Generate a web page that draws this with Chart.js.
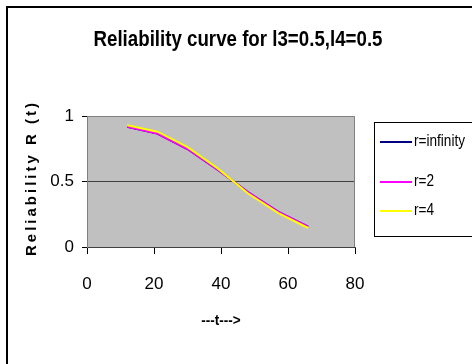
<!DOCTYPE html>
<html>
<head>
<meta charset="utf-8">
<script src="https://cdn.jsdelivr.net/npm/chart.js@4"></script>
<style>
  html, body { margin: 0; padding: 0; background: #fff; }
  #wrap { width: 472px; height: 364px; }
</style>
</head>
<body>
<div id="wrap"><canvas id="grafico" width="472" height="364"></canvas></div>
<script>
// dados
const tempos = [12, 21, 30, 39, 48, 57, 66];
const rInfinito = [0.918, 0.866, 0.748, 0.59, 0.42, 0.27, 0.155];
const r2 = [0.918, 0.866, 0.748, 0.59, 0.42, 0.27, 0.155];
const r4 = [0.930, 0.880, 0.762, 0.60, 0.41, 0.26, 0.145];
const rotulos = ['r=infinity', 'r=2', 'r=4'];
const xTicks = [0, 20, 40, 60, 80];
const yTicks = [0, 0.5, 1];
const titulo = 'Reliability curve for l3=0.5,l4=0.5';
const tituloY = 'Reliability R (t)';
const tituloX = '---t--->';

const fonte = "'Liberation Sans', Arial, sans-serif";

function pontos(valores) {
  return tempos.map((t, i) => ({ x: t, y: valores[i] }));
}

// texto "estreito": escala horizontal
function textoEstreito(ctx, txt, x, y, escala) {
  ctx.save();
  ctx.translate(x, y);
  ctx.scale(escala, 1);
  ctx.fillText(txt, 0, 0);
  ctx.restore();
}

// textos, legenda e moldura desenhados a mao
const extras = {
  id: 'extras',
  beforeDraw(chart) {
    const ctx = chart.ctx;
    const a = chart.chartArea;
    ctx.save();
    ctx.fillStyle = '#c0c0c0';
    ctx.fillRect(a.left, a.top, a.right - a.left, a.bottom - a.top);
    ctx.restore();
  },
  afterDraw(chart) {
    const ctx = chart.ctx;
    const a = chart.chartArea;
    ctx.save();
    // moldura externa
    ctx.strokeStyle = '#000';
    ctx.lineWidth = 2;
    ctx.beginPath();
    ctx.moveTo(7, 364);
    ctx.lineTo(7, 7);
    ctx.lineTo(472, 7);
    ctx.stroke();

    // borda da area do grafico
    ctx.lineWidth = 1;
    ctx.strokeStyle = '#808080';
    ctx.beginPath();
    ctx.moveTo(a.left + 0.5, a.bottom);
    ctx.lineTo(a.left + 0.5, a.top + 0.5);
    ctx.lineTo(a.right - 0.5, a.top + 0.5);
    ctx.lineTo(a.right - 0.5, a.bottom);
    ctx.stroke();

    // titulo
    ctx.fillStyle = '#000';
    ctx.textAlign = 'center';
    ctx.textBaseline = 'alphabetic';
    ctx.font = 'bold 22px ' + fonte;
    textoEstreito(ctx, titulo, 238, 46, 0.85);

    // titulo eixo x
    ctx.textBaseline = 'middle';
    ctx.font = 'bold 15px ' + fonte;
    textoEstreito(ctx, tituloX, 221, 321, 0.9);

    // titulo eixo y
    ctx.save();
    ctx.translate(32, 178);
    ctx.rotate(-Math.PI / 2);
    ctx.font = 'bold 15px ' + fonte;
    ctx.letterSpacing = '3px';
    ctx.fillText(tituloY, 0, 0);
    ctx.restore();

    // legenda
    ctx.strokeStyle = '#000';
    ctx.lineWidth = 1;
    ctx.strokeRect(374.5, 122.5, 120, 114);
    ctx.textAlign = 'left';
    ctx.font = '16px ' + fonte;
    const linhas = [142, 182, 211];
    chart.data.datasets.forEach((ds, i) => {
      ctx.strokeStyle = ds.borderColor;
      ctx.lineWidth = 2;
      ctx.beginPath();
      ctx.moveTo(380, linhas[i]);
      ctx.lineTo(412, linhas[i]);
      ctx.stroke();
      ctx.fillStyle = '#000';
      textoEstreito(ctx, ds.label, 414, linhas[i], 0.85);
    });
    ctx.restore();
  }
};

new Chart(document.getElementById('grafico'), {
  type: 'line',
  data: {
    datasets: [
      { label: rotulos[0], data: pontos(rInfinito), borderColor: '#000080', borderWidth: 2, pointRadius: 0, tension: 0, order: 3 },
      { label: rotulos[1], data: pontos(r2), borderColor: '#ff00ff', borderWidth: 2, pointRadius: 0, tension: 0, order: 2 },
      { label: rotulos[2], data: pontos(r4), borderColor: '#ffff00', borderWidth: 2, pointRadius: 0, tension: 0, order: 1 }
    ]
  },
  options: {
    responsive: false,
    animation: false,
    layout: { padding: { left: 0, top: 116, right: 117, bottom: 0 } },
    plugins: { legend: { display: false }, title: { display: false }, tooltip: { enabled: false } },
    scales: {
      x: {
        type: 'linear',
        min: 0,
        max: 80,
        afterFit: s => { s.height = 117; },
        afterBuildTicks: s => { s.ticks = xTicks.map(v => ({ value: v })); },
        grid: { drawOnChartArea: false, color: '#000', tickLength: 7, tickWidth: 1 },
        border: { color: '#404040', width: 1 },
        ticks: { color: '#000', padding: 20, maxRotation: 0, font: { family: fonte, size: 17 }, callback: v => String(v) }
      },
      y: {
        min: 0,
        max: 1,
        afterFit: s => { s.width = 87; },
        afterBuildTicks: s => { s.ticks = yTicks.map(v => ({ value: v })); },
        grid: { color: ctx => ctx.tick && ctx.tick.value === 0.5 ? '#404040' : 'rgba(0,0,0,0)', tickColor: '#000', tickLength: 5, lineWidth: 1 },
        border: { color: '#808080', width: 1 },
        ticks: { color: '#000', padding: 8, font: { family: fonte, size: 17 }, callback: v => String(v) }
      }
    }
  },
  plugins: [extras]
});
</script>
</body>
</html>
